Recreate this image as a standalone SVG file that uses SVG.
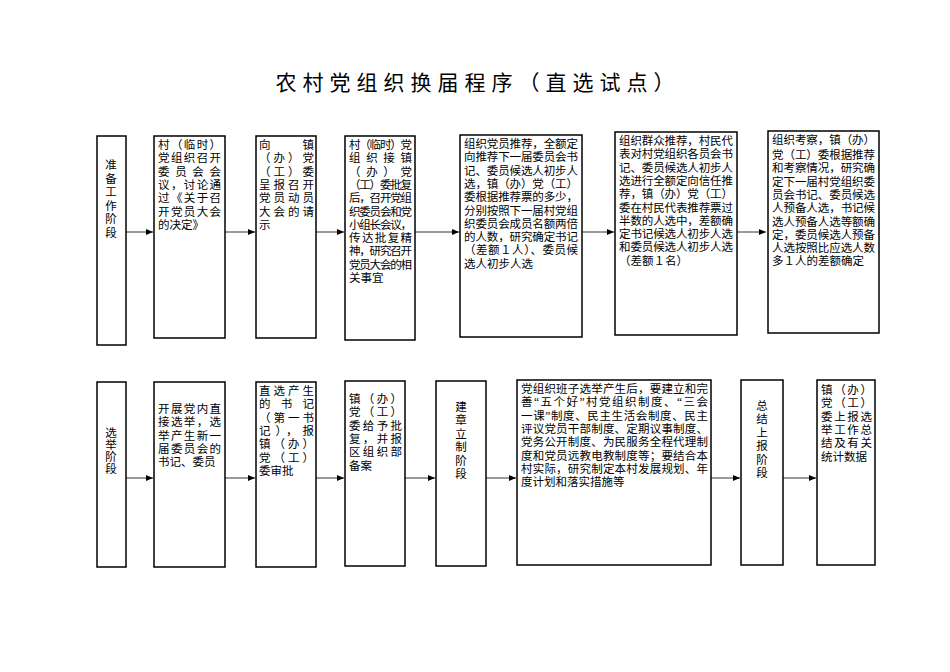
<svg xmlns="http://www.w3.org/2000/svg" width="950" height="672" viewBox="0 0 950 672">
<style>
rect{fill:#fff;stroke:#000;stroke-width:1.5}
text{font-family:"Liberation Serif","Noto Sans CJK SC",serif;font-size:11.5px;fill:#000}
.t{font-size:21px;letter-spacing:6px}
.c line{stroke:#000;stroke-width:0.8;marker-end:url(#a)}
</style>
<defs><marker id="a" markerWidth="8" markerHeight="8" refX="7" refY="3" orient="auto" markerUnits="userSpaceOnUse"><path d="M0,0L7,3L0,6z" fill="#000"/></marker></defs>
<rect x="0" y="0" width="950" height="672" style="fill:#fff;stroke:none"/>
<text class="t" x="478" y="90" text-anchor="middle">农村党组织换届程序（直选试点）</text>
<g class="c">
<line x1="126" y1="232" x2="153" y2="232"/><line x1="225" y1="232" x2="255" y2="232"/><line x1="316" y1="232" x2="344" y2="232"/><line x1="415" y1="232" x2="459" y2="232"/><line x1="582" y1="232" x2="614" y2="232"/><line x1="737" y1="232" x2="766" y2="232"/>
<line x1="126" y1="478" x2="153" y2="478"/><line x1="225" y1="478" x2="255" y2="478"/><line x1="316" y1="478" x2="344" y2="478"/><line x1="405" y1="478" x2="435" y2="478"/><line x1="486" y1="478" x2="516" y2="478"/><line x1="711" y1="478" x2="740" y2="478"/><line x1="783" y1="478" x2="816" y2="478"/>
</g>
<g id="s1"><rect x="97" y="136" width="29" height="209"/><text x="111" text-anchor="middle"><tspan x="111" y="169">准</tspan><tspan x="111" y="182.5">备</tspan><tspan x="111" y="196">工</tspan><tspan x="111" y="209.5">作</tspan><tspan x="111" y="223">阶</tspan><tspan x="111" y="236.5">段</tspan></text></g>
<g id="n1"><rect x="154" y="136" width="71" height="202"/><text><tspan x="158" y="149" textLength="63">村（临时）</tspan><tspan x="158" y="162.3" textLength="63">党组织召开</tspan><tspan x="158" y="175.6" textLength="63">委员会会</tspan><tspan x="158" y="188.9" textLength="63">议，讨论通</tspan><tspan x="158" y="202.2" textLength="63">过《关于召</tspan><tspan x="158" y="215.5" textLength="63">开党员大会</tspan><tspan x="158" y="228.8">的决定》</tspan></text></g>
<g id="n2"><rect x="256" y="136" width="60" height="202"/><text><tspan x="259" y="149" textLength="55">向　　　镇</tspan><tspan x="259" y="162.3" textLength="55">（办）党</tspan><tspan x="259" y="175.6" textLength="55">（工）委</tspan><tspan x="259" y="188.9" textLength="55">呈报召开</tspan><tspan x="259" y="202.2" textLength="55">党员动员</tspan><tspan x="259" y="215.5" textLength="55">大会的请</tspan><tspan x="259" y="228.8">示</tspan></text></g>
<g id="n3"><rect x="345" y="136" width="70" height="204"/><text><tspan x="349" y="149" textLength="63">村（临时）党</tspan><tspan x="349" y="162.3" textLength="63">组织接镇</tspan><tspan x="349" y="175.6" textLength="63">（办）党</tspan><tspan x="349" y="188.9" textLength="63">（工）委批复</tspan><tspan x="349" y="202.2" textLength="63">后，召开党组</tspan><tspan x="349" y="215.5" textLength="63">织委员会和党</tspan><tspan x="349" y="228.8" textLength="63">小组长会议，</tspan><tspan x="349" y="242.1" textLength="63">传达批复精</tspan><tspan x="349" y="255.4" textLength="63">神，研究召开</tspan><tspan x="349" y="268.7" textLength="63">党员大会的相</tspan><tspan x="349" y="282">关事宜</tspan></text></g>
<g id="n4"><rect x="460" y="135" width="122" height="202"/><text><tspan x="464" y="148" textLength="114">组织党员推荐，全额定</tspan><tspan x="464" y="161.3" textLength="114">向推荐下一届委员会书</tspan><tspan x="464" y="174.6" textLength="114">记、委员候选人初步人</tspan><tspan x="464" y="187.9" textLength="114">选，镇（办）党（工）</tspan><tspan x="464" y="201.2" textLength="114">委根据推荐票的多少，</tspan><tspan x="464" y="214.5" textLength="114">分别按照下一届村党组</tspan><tspan x="464" y="227.8" textLength="114">织委员会成员名额两倍</tspan><tspan x="464" y="241.1" textLength="114">的人数，研究确定书记</tspan><tspan x="464" y="254.4" textLength="114">（差额１人）、委员候</tspan><tspan x="464" y="267.7">选人初步人选</tspan></text></g>
<g id="n5"><rect x="615" y="132" width="122" height="203"/><text><tspan x="619" y="145" textLength="114">组织群众推荐，村民代</tspan><tspan x="619" y="158.3" textLength="114">表对村党组织各员会书</tspan><tspan x="619" y="171.6" textLength="114">记、委员候选人初步人</tspan><tspan x="619" y="184.9" textLength="114">选进行全额定向信任推</tspan><tspan x="619" y="198.2" textLength="114">荐，镇（办）党（工）</tspan><tspan x="619" y="211.5" textLength="114">委在村民代表推荐票过</tspan><tspan x="619" y="224.8" textLength="114">半数的人选中，差额确</tspan><tspan x="619" y="238.1" textLength="114">定书记候选人初步人选</tspan><tspan x="619" y="251.4" textLength="114">和委员候选人初步人选</tspan><tspan x="619" y="264.7">（差额１名）</tspan></text></g>
<g id="n6"><rect x="768" y="131" width="111" height="202"/><text><tspan x="772" y="144" textLength="103">组织考察，镇（办）</tspan><tspan x="772" y="159" textLength="103">党（工）委根据推荐</tspan><tspan x="772" y="172.3" textLength="103">和考察情况，研究确</tspan><tspan x="772" y="185.6" textLength="103">定下一届村党组织委</tspan><tspan x="772" y="198.9" textLength="103">员会书记、委员候选</tspan><tspan x="772" y="212.2" textLength="103">人预备人选，书记候</tspan><tspan x="772" y="225.5" textLength="103">选人预备人选等额确</tspan><tspan x="772" y="238.8" textLength="103">定，委员候选人预备</tspan><tspan x="772" y="252.1" textLength="103">人选按照比应选人数</tspan><tspan x="772" y="265.4">多１人的差额确定</tspan></text></g>
<g id="s2"><rect x="97" y="382" width="29" height="185"/><text><tspan x="111" y="437" text-anchor="middle">选</tspan><tspan x="111" y="449" text-anchor="middle">举</tspan><tspan x="111" y="461" text-anchor="middle">阶</tspan><tspan x="111" y="473" text-anchor="middle">段</tspan></text></g>
<g id="m1"><rect x="154" y="382" width="71" height="185"/><text><tspan x="158" y="413" textLength="63">开展党内直</tspan><tspan x="158" y="426.3" textLength="63">接选举，选</tspan><tspan x="158" y="439.6" textLength="63">举产生新一</tspan><tspan x="158" y="452.9" textLength="63">届委员会的</tspan><tspan x="158" y="466.2">书记、委员</tspan></text></g>
<g id="m2"><rect x="256" y="382" width="60" height="185"/><text><tspan x="259" y="395" textLength="55">直选产生</tspan><tspan x="259" y="408.3" textLength="55">的书记</tspan><tspan x="259" y="421.6" textLength="55">（第一书</tspan><tspan x="259" y="434.9" textLength="55">记），报</tspan><tspan x="259" y="448.2" textLength="55">镇（办）</tspan><tspan x="259" y="461.5" textLength="55">党（工）</tspan><tspan x="259" y="474.8">委审批</tspan></text></g>
<g id="m3"><rect x="345" y="381" width="60" height="185"/><text><tspan x="349" y="403" textLength="53">镇（办）</tspan><tspan x="349" y="416.3" textLength="53">党（工）</tspan><tspan x="349" y="429.6" textLength="53">委给予批</tspan><tspan x="349" y="442.9" textLength="53">复，并报</tspan><tspan x="349" y="456.2" textLength="53">区组织部</tspan><tspan x="349" y="469.5">备案</tspan></text></g>
<g id="m4"><rect x="436" y="381" width="50" height="185"/><text><tspan x="461" y="411" text-anchor="middle">建</tspan><tspan x="461" y="424.4" text-anchor="middle">章</tspan><tspan x="461" y="437.8" text-anchor="middle">立</tspan><tspan x="461" y="451.2" text-anchor="middle">制</tspan><tspan x="461" y="464.6" text-anchor="middle">阶</tspan><tspan x="461" y="478" text-anchor="middle">段</tspan></text></g>
<g id="m5"><rect x="517" y="380" width="194" height="185"/><text><tspan x="521" y="393" textLength="187">党组织班子选举产生后，要建立和完</tspan><tspan x="521" y="406.3" textLength="187">善“五个好”村党组织制度、“三会</tspan><tspan x="521" y="419.6" textLength="187">一课”制度、民主生活会制度、民主</tspan><tspan x="521" y="432.9" textLength="187">评议党员干部制度、定期议事制度、</tspan><tspan x="521" y="446.2" textLength="187">党务公开制度、为民服务全程代理制</tspan><tspan x="521" y="459.5" textLength="187">度和党员远教电教制度等；要结合本</tspan><tspan x="521" y="472.8" textLength="187">村实际，研究制定本村发展规划、年</tspan><tspan x="521" y="486.1">度计划和落实措施等</tspan></text></g>
<g id="m6"><rect x="741" y="380" width="42" height="185"/><text><tspan x="762" y="410" text-anchor="middle">总</tspan><tspan x="762" y="423.4" text-anchor="middle">结</tspan><tspan x="762" y="436.8" text-anchor="middle">上</tspan><tspan x="762" y="450.2" text-anchor="middle">报</tspan><tspan x="762" y="463.6" text-anchor="middle">阶</tspan><tspan x="762" y="477" text-anchor="middle">段</tspan></text></g>
<g id="m7"><rect x="817" y="380" width="58" height="185"/><text><tspan x="821" y="394" textLength="51">镇（办）</tspan><tspan x="821" y="407.3" textLength="51">党（工）</tspan><tspan x="821" y="420.6" textLength="51">委上报选</tspan><tspan x="821" y="433.9" textLength="51">举工作总</tspan><tspan x="821" y="447.2" textLength="51">结及有关</tspan><tspan x="821" y="460.5">统计数据</tspan></text></g>
</svg>
